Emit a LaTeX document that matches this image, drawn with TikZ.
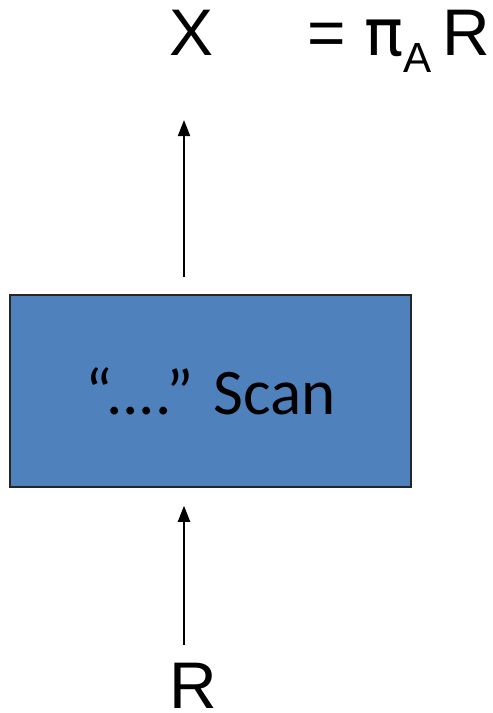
\documentclass[tikz,border=0pt]{standalone}
\usepackage{fontspec}
\setmainfont{Liberation Sans}
\newfontfamily\calibri{Carlito}
\newfontfamily\greek{DejaVu Sans}
\usepackage{xcolor}
\usetikzlibrary{arrows.meta, positioning}
\definecolor{scanblue}{HTML}{4F81BD}

\begin{document}
\begin{tikzpicture}[>={Triangle[length=0.32cm,width=0.24cm]}]
    \tikzstyle{process}=[shape=rectangle,draw=black!85,line width=0.85pt,fill=scanblue,minimum width=8.02cm,minimum height=3.84cm,inner sep=0pt]
    \tikzstyle{label}=[inner sep=0pt,font=\fontsize{37.5}{40}\selectfont]
    \tikzstyle{flow}=[->,line width=1.1pt]

    \useasboundingbox (0,0) rectangle (9.84,-14.26);

    \node[process] (scan) at (4.21,-7.82) {\calibri\fontsize{37}{40}\selectfont “....” Scan};
    \node[label, anchor=base] (xout) at (3.83,-1.1) {X};
    \node[label, anchor=base west] (eq) at (6.15,-1.1) {= {\greek\fontsize{37}{40}\selectfont π}\raisebox{-0.26em}{\fontsize{24}{26}\selectfont A}\,R};
    \node[label, anchor=base] (rin) at (3.86,-14.17) {R};
    \coordinate (inx) at (3.68,-12.9);
    \coordinate (outx) at (3.68,-2.4);

    \draw[flow, shorten >=0.36cm] (inx) -- (scan.south -| inx);
    \draw[flow, shorten <=0.34cm] (scan.north -| outx) -- (outx);

  \end{tikzpicture}
\end{document}
